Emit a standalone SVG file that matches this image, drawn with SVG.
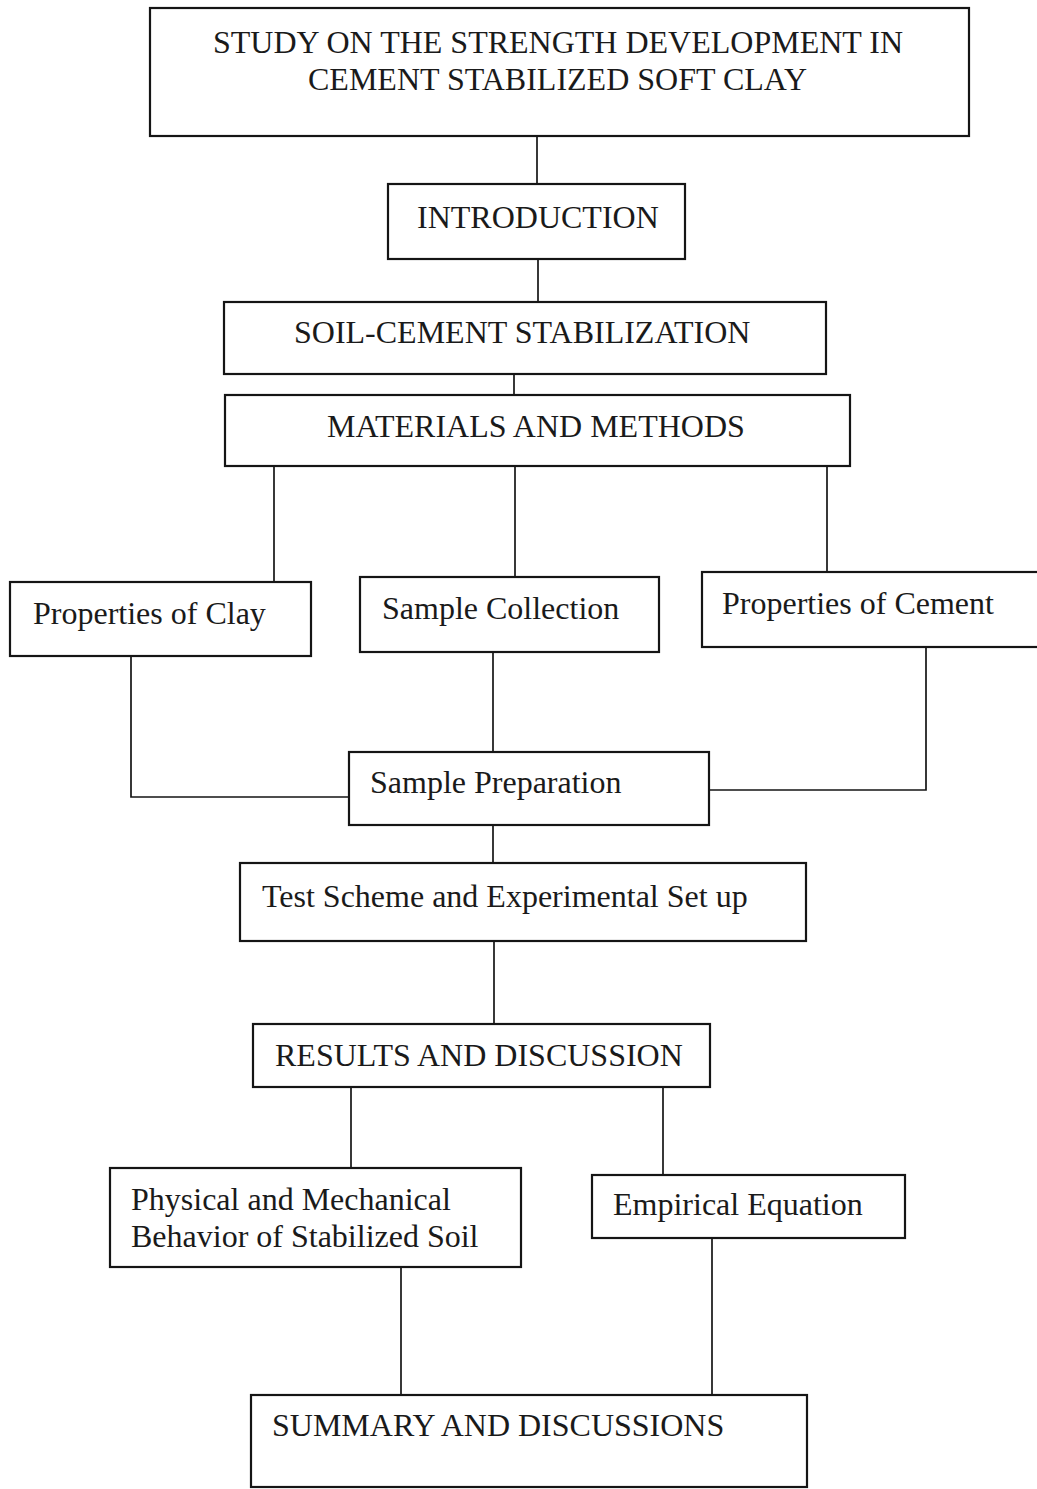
<svg xmlns="http://www.w3.org/2000/svg" width="1037" height="1489" viewBox="0 0 1037 1489">
<style>
.box{fill:#ffffff;stroke:#151515;stroke-width:2.2}
.t{font-family:"Liberation Serif","Times New Roman",serif;font-size:32px;fill:#1a1a1a}
.c{fill:none;stroke:#151515;stroke-width:1.7}
</style>
<rect width="1037" height="1489" fill="#ffffff"/>
<g id="connectors">
<line class="c" x1="537" y1="136" x2="537" y2="183"/>
<line class="c" x1="538" y1="259" x2="538" y2="303"/>
<line class="c" x1="514" y1="374" x2="514" y2="395"/>
<line class="c" x1="274" y1="466" x2="274" y2="582"/>
<line class="c" x1="515" y1="466" x2="515" y2="577"/>
<line class="c" x1="827" y1="466" x2="827" y2="572"/>
<polyline class="c" points="131,656 131,797 349,797"/>
<line class="c" x1="493" y1="652" x2="493" y2="752"/>
<polyline class="c" points="926,647 926,790 709,790"/>
<line class="c" x1="493" y1="825" x2="493" y2="863"/>
<line class="c" x1="494" y1="941" x2="494" y2="1024"/>
<line class="c" x1="351" y1="1087" x2="351" y2="1168"/>
<line class="c" x1="663" y1="1087" x2="663" y2="1175"/>
<line class="c" x1="401" y1="1267" x2="401" y2="1395"/>
<line class="c" x1="712" y1="1238" x2="712" y2="1395"/>
</g>
<g id="title">
<rect class="box" x="150" y="8" width="819" height="128"/>
<text class="t" x="213" y="53">STUDY ON THE STRENGTH DEVELOPMENT IN</text>
<text class="t" x="308" y="90">CEMENT STABILIZED SOFT CLAY</text>
</g>
<g id="introduction">
<rect class="box" x="388" y="184" width="297" height="75"/>
<text class="t" x="417" y="228">INTRODUCTION</text>
</g>
<g id="soil-cement">
<rect class="box" x="224" y="302" width="602" height="72"/>
<text class="t" x="294" y="343">SOIL-CEMENT STABILIZATION</text>
</g>
<g id="materials">
<rect class="box" x="225" y="395" width="625" height="71"/>
<text class="t" x="327" y="437">MATERIALS AND METHODS</text>
</g>
<g id="clay">
<rect class="box" x="10" y="582" width="301" height="74"/>
<text class="t" x="33" y="624">Properties of Clay</text>
</g>
<g id="collection">
<rect class="box" x="360" y="577" width="299" height="75"/>
<text class="t" x="382" y="619">Sample Collection</text>
</g>
<g id="cement">
<rect class="box" x="702" y="572" width="345" height="75"/>
<text class="t" x="722" y="614">Properties of Cement</text>
</g>
<g id="preparation">
<rect class="box" x="349" y="752" width="360" height="73"/>
<text class="t" x="370" y="793">Sample Preparation</text>
</g>
<g id="test">
<rect class="box" x="240" y="863" width="566" height="78"/>
<text class="t" x="262" y="907">Test Scheme and Experimental Set up</text>
</g>
<g id="results">
<rect class="box" x="253" y="1024" width="457" height="63"/>
<text class="t" x="275" y="1066">RESULTS AND DISCUSSION</text>
</g>
<g id="physical">
<rect class="box" x="110" y="1168" width="411" height="99"/>
<text class="t" x="131" y="1210">Physical and Mechanical</text>
<text class="t" x="131" y="1247">Behavior of Stabilized Soil</text>
</g>
<g id="empirical">
<rect class="box" x="592" y="1175" width="313" height="63"/>
<text class="t" x="613" y="1215">Empirical Equation</text>
</g>
<g id="summary">
<rect class="box" x="251" y="1395" width="556" height="92"/>
<text class="t" x="272" y="1436">SUMMARY AND DISCUSSIONS</text>
</g>
</svg>
